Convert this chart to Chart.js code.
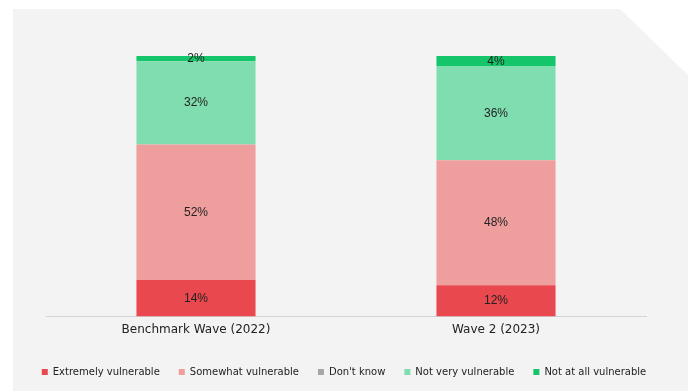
<!DOCTYPE html>
<html>
<head>
<meta charset="utf-8">
<script src="https://cdn.jsdelivr.net/npm/chart.js@4"></script>
<style>
  html, body { margin: 0; padding: 0; background: #ffffff; }
  #wrap { position: relative; width: 688px; height: 391px; }
  #panel {
    position: absolute; left: 13px; top: 9px; width: 675px; height: 382px;
    background: #f3f3f3;
    clip-path: polygon(0 0, 607px 0, 675px 66px, 675px 382px, 0 382px);
  }
  #chart { position: absolute; left: 0; top: 0; }
</style>
</head>
<body>
<div id="wrap">
  <div id="panel"></div>
  <canvas id="chart" width="688" height="391"></canvas>
</div>
<script>
// categories and values (percent)
const waves = ["Benchmark Wave (2022)", "Wave 2 (2023)"];
const extremely = [14, 12];
const somewhat = [52, 48];
const dontKnow = [0, 0];
const notVery = [32, 36];
const notAtAll = [2, 4];

// draw the % in the middle of each segment
const barLabels = {
    id: "barLabels",
    afterDatasetsDraw(chart) {
        const ctx = chart.ctx;
        ctx.save();
        ctx.font = "12px 'Liberation Sans', Arial, sans-serif";
        ctx.fillStyle = "#222222";
        ctx.textAlign = "center";
        ctx.textBaseline = "middle";
        chart.data.datasets.forEach((ds, i) => {
            const meta = chart.getDatasetMeta(i);
            meta.data.forEach((bar, j) => {
                const v = ds.data[j];
                if (!v) return;
                const y = (bar.y + bar.base) / 2;
                ctx.fillText(v + "%", bar.x, y);
            });
        });
        ctx.restore();
    }
};

// empty side axes, only there to keep room left and right of the bars
const spacer = (w, pos) => ({
    position: pos,
    display: true,
    grid: { display: false, drawTicks: false },
    border: { display: false },
    ticks: { display: false },
    afterFit(scale) { scale.width = w; }
});

new Chart(document.getElementById("chart"), {
    type: "bar",
    data: {
        labels: waves,
        datasets: [
            { label: "Extremely vulnerable", data: extremely, backgroundColor: "#e8484e" },
            { label: "Somewhat vulnerable", data: somewhat, backgroundColor: "#ef9e9e" },
            { label: "Don't know", data: dontKnow, backgroundColor: "#a6a6a6" },
            { label: "Not very vulnerable", data: notVery, backgroundColor: "#80ddb0" },
            { label: "Not at all vulnerable", data: notAtAll, backgroundColor: "#14c569" }
        ]
    },
    options: {
        responsive: false,
        animation: false,
        categoryPercentage: 1,
        barPercentage: 0.397,
        layout: { padding: { top: 56, left: 0, right: 0, bottom: 4 } },
        scales: {
            x: {
                stacked: true,
                grid: { display: false, drawTicks: false },
                border: { display: true, color: "#d4d4d4", width: 1 },
                ticks: {
                    color: "#222222",
                    padding: 6,
                    font: { family: "'DejaVu Sans', Verdana, sans-serif", size: 12 }
                },
                afterFit(scale) { scale.height += 5; }
            },
            y: Object.assign(spacer(46, "left"), { stacked: true, min: 0, max: 100 }),
            y2: spacer(42, "right")
        },
        plugins: {
            legend: {
                position: "bottom",
                labels: {
                    boxWidth: 6,
                    boxHeight: 6,
                    padding: 19,
                    color: "#222222",
                    font: { family: "'DejaVu Sans', Verdana, sans-serif", size: 10 }
                }
            },
            tooltip: { enabled: false }
        }
    },
    plugins: [barLabels]
});
</script>
</body>
</html>
